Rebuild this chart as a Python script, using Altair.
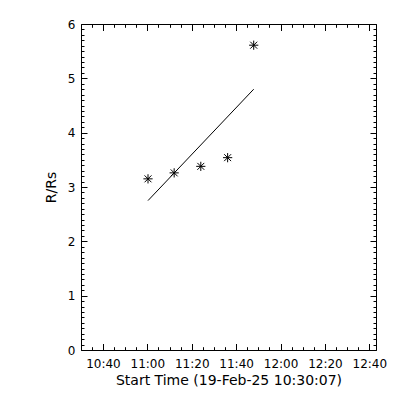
import altair as alt
import pandas as pd

# ---- data ----
obs_times = ["11:00:18", "11:12:05", "11:24:05", "11:36:10", "11:47:55"]
obs_heights = [3.15, 3.26, 3.38, 3.54, 5.61]

fit_times = ["11:00:18", "11:47:55"]
fit_heights = [2.75, 4.80]

x_start = "10:30:07"
x_end = "12:43:00"
x_major_labels = ["10:40", "11:00", "11:20", "11:40", "12:00", "12:20", "12:40"]
x_minor_step_min = 5
y_major = [0, 1, 2, 3, 4, 5, 6]
y_minor_step = 0.1

x_title = "Start Time (19-Feb-25 10:30:07)"
y_title = "R/Rs"


def to_min(t):
    parts = [int(p) for p in t.split(":")]
    while len(parts) < 3:
        parts.append(0)
    return parts[0] * 60 + parts[1] + parts[2] / 60.0


obs = pd.DataFrame({"m": [to_min(t) for t in obs_times], "r": obs_heights})
fit = pd.DataFrame({"m": [to_min(t) for t in fit_times], "r": fit_heights})

x_major = [to_min(t) for t in x_major_labels]
x_minor = list(range(int(to_min("10:35")), int(to_min("12:40")) + 1, x_minor_step_min))
y_minor = [round(i * y_minor_step, 1) for i in range(61)]

xscale = alt.Scale(domain=[to_min(x_start), to_min(x_end)], nice=False, zero=False)
yscale = alt.Scale(domain=[0, 6], nice=False, zero=False)

time_expr = ("floor(datum.value/60) + ':' + (datum.value % 60 < 10 ? '0' : '') + "
             "(datum.value % 60)")


def ax(orient, values, size, **kw):
    return alt.Axis(orient=orient, values=values, tickSize=size, offset=-size,
                    domain=False, grid=False, ticks=True, tickColor="black",
                    tickWidth=1, labelFlush=False, labelOverlap=False, **kw)


star = "M-1,0L1,0M0,-1L0,1M-0.75,-0.75L0.75,0.75M-0.75,0.75L0.75,-0.75"

# layer 1: stars + main labelled axes (bottom / left, major ticks)
l1 = alt.Chart(obs).mark_point(shape=star, size=85, filled=False, stroke="black",
                               strokeWidth=1, opacity=1).encode(
    x=alt.X("m:Q", scale=xscale,
            axis=ax("bottom", x_major, 6.5, labels=True, labelExpr=time_expr,
                    labelPadding=8, title=x_title, titlePadding=4)),
    y=alt.Y("r:Q", scale=yscale,
            axis=ax("left", y_major, 6, labels=True, labelPadding=6,
                    title=y_title, titlePadding=9)),
)

# layer 2: fit line + minor ticks bottom / left
l2 = alt.Chart(fit).mark_line(color="black", strokeWidth=1).encode(
    x=alt.X("m:Q", scale=xscale, axis=ax("bottom", x_minor, 3.3, labels=False, title="")),
    y=alt.Y("r:Q", scale=yscale, axis=ax("left", y_minor, 3, labels=False, title="")),
)

# layer 3: top / right major ticks
l3 = alt.Chart(obs).mark_point(opacity=0).encode(
    x=alt.X("m:Q", scale=xscale, axis=ax("top", x_major, 6.5, labels=False, title="")),
    y=alt.Y("r:Q", scale=yscale, axis=ax("right", y_major, 6, labels=False, title="")),
)

# layer 4: top / right minor ticks
l4 = alt.Chart(obs).mark_point(opacity=0).encode(
    x=alt.X("m:Q", scale=xscale, axis=ax("top", x_minor, 3.3, labels=False, title="")),
    y=alt.Y("r:Q", scale=yscale, axis=ax("right", y_minor, 3, labels=False, title="")),
)

chart = alt.layer(l1, l2, l3, l4).resolve_axis(
    x="independent", y="independent"
).properties(
    width=295, height=326,
    autosize=alt.AutoSizeParams(type="none"),
    padding={"left": 73, "top": 16, "right": 16, "bottom": 42},
    background="white",
).configure_view(
    stroke="black", strokeWidth=1
).configure_axis(
    labelFont="DejaVu Sans", labelFontSize=12, labelColor="black",
    titleFont="DejaVu Sans", titleFontSize=14, titleFontWeight="normal",
    titleColor="black",
)

chart.save("out.html", embed_options={"renderer": "svg", "actions": False})
